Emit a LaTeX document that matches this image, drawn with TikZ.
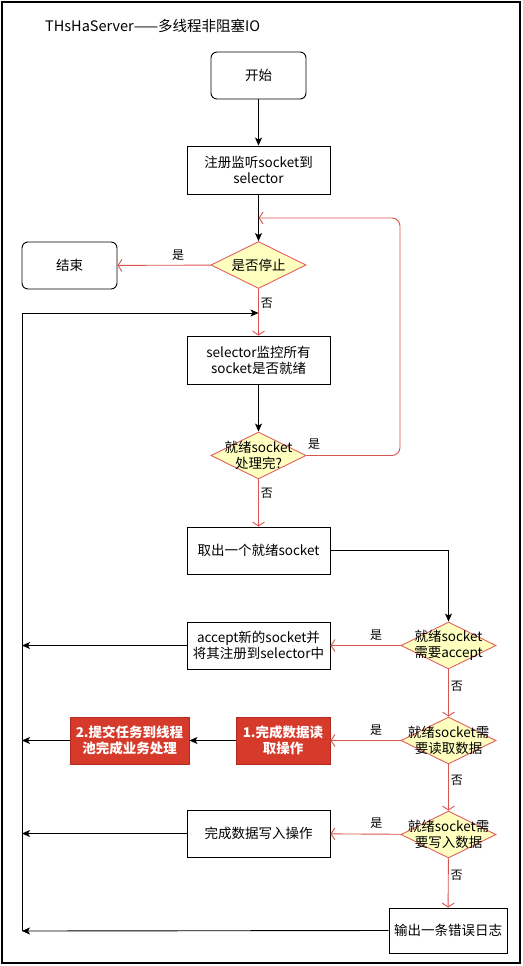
\documentclass[tikz,border=0pt]{standalone}
\usepackage{fontspec}
\setmainfont{Noto Sans CJK SC}
\usetikzlibrary{arrows.meta,shapes.geometric,positioning}
\definecolor{redline}{HTML}{D9534F}
\definecolor{dfill}{HTML}{FFFFC0}
\definecolor{dstroke}{HTML}{E06060}
\definecolor{rfill}{HTML}{D63A2A}
\definecolor{rstroke}{HTML}{B02A1E}
\tikzset{
  base/.style={font=\fontsize{13.5}{16}\selectfont, align=center, inner sep=0pt},
  rbox/.style={base, draw=black, line width=0.9pt, rounded corners=6pt, minimum width=95pt, minimum height=47pt},
  pbox/.style={base, draw=black, line width=0.9pt, minimum width=143pt, minimum height=48pt},
  redbox/.style={base, draw=rstroke, fill=rfill, text=white, line width=0.9pt, font=\fontsize{13.5}{16}\selectfont\bfseries},
  dec/.style={diamond, aspect=2, draw=dstroke, fill=dfill, line width=0.9pt, inner sep=0pt, minimum width=95pt, minimum height=47pt,
     label={[base]center:#1}},
  blk/.style={draw=black, line width=0.9pt, -{Stealth[length=8pt,width=7pt,inset=2pt]}},
  red/.style={draw=redline, line width=0.9pt, -{Straight Barb[length=4pt,width=12pt]}},
  lbl/.style={font=\fontsize{12}{14}\selectfont, inner sep=0pt},
}
\begin{document}
\begin{tikzpicture}[x=1pt,y=-1pt]
\useasboundingbox (0,0) rectangle (522,966);
\draw[line width=2pt] (2,2) rectangle (520,963);
\node[font=\fontsize{14.5}{16}\selectfont, anchor=west, inner sep=0pt] (title) at (45,26) {THsHaServer——多线程非阻塞IO};

\node[rbox] (start) at (258.5,75.5) {开始};
\node[pbox] (reg) at (258.5,170) {注册监听socket到\\selector};
\node[dec={是否停止}] (stop) at (258.5,265) {};
\node[rbox] (end) at (69.5,265.5) {结束};
\node[pbox] (sel) at (258.5,360) {selector监控所有\\socket是否就绪};
\node[dec={就绪socket\\处理完?}] (done) at (258.5,455.5) {};
\node[pbox, minimum height=47pt] (take) at (258.5,550.5) {取出一个就绪socket};
\node[dec={就绪socket\\需要accept}] (acc) at (448.5,645.5) {};
\node[pbox, minimum height=47pt] (accb) at (258.5,645.5) {accept新的socket并\\将其注册到selector中};
\node[dec={就绪socket需\\要读取数据}] (rd) at (448.5,740.5) {};
\node[redbox, minimum width=94pt, minimum height=47pt] (r1) at (283,740.5) {1.完成数据读\\取操作};
\node[redbox, minimum width=119pt, minimum height=47pt] (r2) at (129.5,740.5) {2.提交任务到线程\\池完成业务处理};
\node[dec={就绪socket需\\要写入数据}] (wr) at (448.5,834.5) {};
\node[pbox, minimum height=47pt] (wrb) at (258.5,833.5) {完成数据写入操作};
\node[pbox, minimum width=118pt, minimum height=45pt] (err) at (448,930.5) {输出一条错误日志};

\coordinate (loopin) at (258.5,218);
\coordinate (backin) at (258.5,313);
\coordinate (leftbot) at (22,931);
\coordinate (lefttop) at (22,313);

% flow
\draw[blk] (start) -- (reg);
\draw[blk] (reg) -- (stop);
\draw[red] (stop) -- node[lbl, pos=0.35, above, yshift=4pt] {是} (end);
\draw[red] (stop) -- node[lbl, pos=0.3, right, xshift=2pt] {否} (sel);
\draw[blk] (sel) -- (done);
\draw[red, rounded corners=8pt] (done.east) -- (400,455.5) -- (400,218) -- (loopin);
\node[lbl] (yes2) at (314,444) {是};
\draw[red] (done) -- node[lbl, pos=0.3, right, xshift=2pt] {否} (take);
\draw[blk] (take.east) -| (acc.north);
\draw[red] (acc) -- node[lbl, pos=0.35, above, yshift=5pt] {是} (accb);
\draw[red] (acc) -- node[lbl, pos=0.35, right, xshift=2pt] {否} (rd);
\draw[red] (rd) -- node[lbl, pos=0.35, above, yshift=5pt] {是} (r1);
\draw[blk] (r1) -- (r2);
\draw[red] (rd) -- node[lbl, pos=0.35, right, xshift=2pt] {否} (wr);
\draw[red] (wr) -- node[lbl, pos=0.35, above, yshift=5pt] {是} (wrb);
\draw[red] (wr) -- node[lbl, pos=0.35, right, xshift=2pt] {否} (err);

% returns to left
\draw[blk] (accb.west) -- (22,645.5);
\draw[blk] (r2.west) -- (22,740.5);
\draw[blk] (wrb.west) -- (22,833.5);
\draw[blk] (err.west) -- (leftbot);
\draw[blk] (leftbot) -- (lefttop) -- (backin);
\end{tikzpicture}
\end{document}
